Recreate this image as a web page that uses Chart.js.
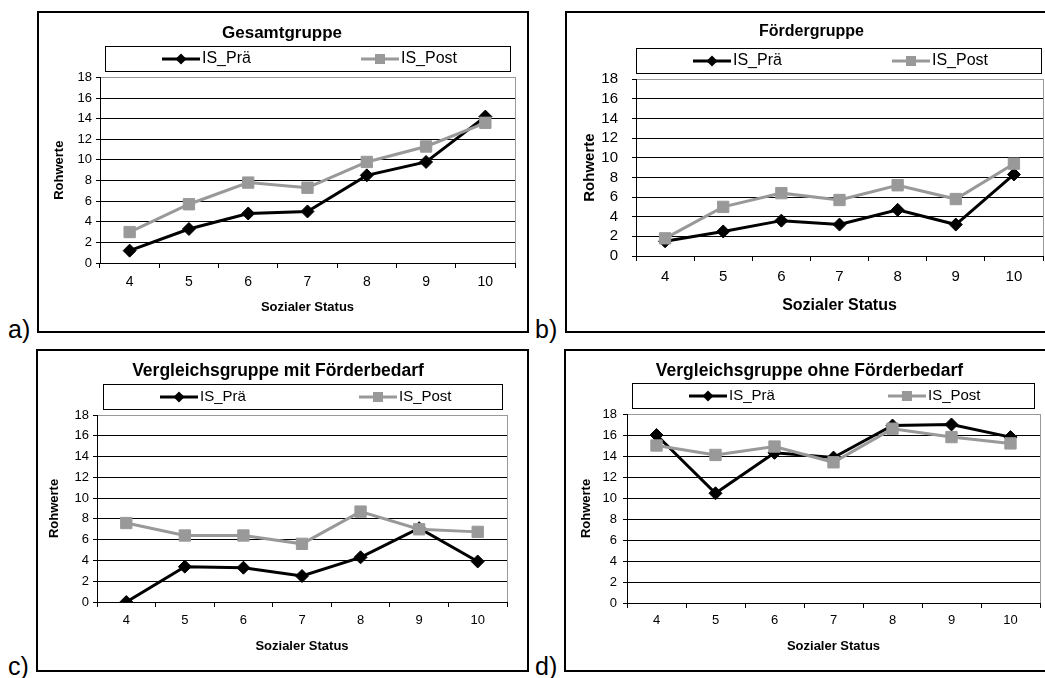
<!DOCTYPE html>
<html>
<head>
<meta charset="utf-8">
<script src="https://cdn.jsdelivr.net/npm/chart.js@4/dist/chart.umd.min.js"></script>
<style>
    body { margin: 0; background: #fff; overflow: hidden; width: 1045px; height: 678px; position: relative; font-family: "Liberation Sans", Arial, sans-serif; }
    .panel { position: absolute; border: 2px solid #000; box-sizing: border-box; background: #fff; }
    .panel canvas { display: block; }
    .tag { position: absolute; font-size: 25px; line-height: 1; color: #000; }
</style>
</head>
<body>

<div class="panel" id="box-a" style="left:37px; top:11px; width:492px; height:322px;"><canvas id="chart-a" width="488" height="318"></canvas></div>
<div class="panel" id="box-b" style="left:565px; top:11px; width:493px; height:322px;"><canvas id="chart-b" width="489" height="318"></canvas></div>
<div class="panel" id="box-c" style="left:36px; top:349px; width:493px; height:323px;"><canvas id="chart-c" width="489" height="319"></canvas></div>
<div class="panel" id="box-d" style="left:564px; top:349px; width:491px; height:323px;"><canvas id="chart-d" width="487" height="319"></canvas></div>

<span class="tag" style="left:8px; top:317px;">a)</span>
<span class="tag" style="left:535px; top:317px;">b)</span>
<span class="tag" style="left:8px; top:654px;">c)</span>
<span class="tag" style="left:535px; top:654px;">d)</span>

<script>
// Kategorien (Sozialer Status)
const statusLabels = ['4', '5', '6', '7', '8', '9', '10'];

// Werte je Gruppe
const gesamtPrae = [1.2, 3.3, 4.8, 5.0, 8.5, 9.8, 14.2];
const gesamtPost = [3.0, 5.7, 7.8, 7.3, 9.8, 11.3, 13.6];

const foerderPrae = [1.5, 2.5, 3.6, 3.2, 4.7, 3.2, 8.3];
const foerderPost = [1.8, 5.0, 6.4, 5.7, 7.2, 5.8, 9.4];

const mitBedarfPrae = [0.0, 3.4, 3.3, 2.5, 4.3, 7.1, 3.9];
const mitBedarfPost = [7.6, 6.4, 6.4, 5.6, 8.7, 7.0, 6.75];

const ohneBedarfPrae = [16.0, 10.45, 14.3, 13.85, 16.9, 17.0, 15.8];
const ohneBedarfPost = [15.0, 14.1, 14.9, 13.4, 16.6, 15.8, 15.2];

// y-Achse
const yMin = 0;
const yMax = 18;
const yStep = 2;

const seriesNames = ['IS_Prä', 'IS_Post'];
const FONT = "'Liberation Sans', Arial, sans-serif";
const GREY = '#999999';

// Legend in a framed box above the plot area
const boxLegend = {
    id: 'boxLegend',
    afterDraw(chart, args, opts) {
        const ctx = chart.ctx;
        const area = chart.chartArea;
        const left = Math.round(area.left + opts.insetLeft);
        const right = Math.round(area.right - opts.insetRight);
        const top = Math.round(area.top - 31);
        const bottom = Math.round(area.top - 6);
        ctx.save();
        ctx.strokeStyle = '#000';
        ctx.lineWidth = 1;
        ctx.strokeRect(left + 0.5, top + 0.5, right - left, bottom - top);
        const cy = (top + bottom) / 2 + 0.5;
        chart.data.datasets.forEach((ds, i) => {
            const x0 = left + (i === 0 ? 57 : 256);
            const cx = x0 + 19;
            ctx.strokeStyle = ds.borderColor;
            ctx.fillStyle = ds.borderColor;
            ctx.lineWidth = ds.borderWidth;
            ctx.beginPath();
            ctx.moveTo(x0, cy);
            ctx.lineTo(x0 + 38, cy);
            ctx.stroke();
            ctx.beginPath();
            if (ds.pointStyle === 'rectRot') {
                const r = 5.5;
                ctx.moveTo(cx - r, cy);
                ctx.lineTo(cx, cy - r);
                ctx.lineTo(cx + r, cy);
                ctx.lineTo(cx, cy + r);
                ctx.closePath();
            } else {
                ctx.rect(cx - 5, cy - 5, 10, 10);
            }
            ctx.fill();
            ctx.fillStyle = '#000';
            ctx.font = opts.fontSize + 'px ' + FONT;
            ctx.textBaseline = 'middle';
            ctx.textAlign = 'left';
            ctx.fillText(ds.label, x0 + 40, cy);
        });
        ctx.restore();
    }
};

// Grey frame on the right side of the plot area
const plotFrame = {
    id: 'plotFrame',
    beforeDatasetsDraw(chart) {
        const ctx = chart.ctx;
        const area = chart.chartArea;
        const x = Math.round(area.right) + 0.5;
        ctx.save();
        ctx.strokeStyle = GREY;
        ctx.lineWidth = 1;
        ctx.beginPath();
        ctx.moveTo(x, Math.round(area.top));
        ctx.lineTo(x, Math.round(area.bottom));
        ctx.stroke();
        ctx.restore();
    }
};

function makeChart(canvasId, title, prae, post, s) {
    return new Chart(document.getElementById(canvasId), {
        type: 'line',
        data: {
            labels: statusLabels,
            datasets: [{
                label: seriesNames[0],
                data: prae,
                borderColor: '#000000',
                backgroundColor: '#000000',
                borderWidth: 3,
                pointStyle: 'rectRot',
                pointRadius: 6.5,
                pointBorderWidth: 1,
                tension: 0,
                order: 2
            }, {
                label: seriesNames[1],
                data: post,
                borderColor: GREY,
                backgroundColor: GREY,
                borderWidth: 3,
                pointStyle: 'rect',
                pointRadius: 8,
                pointBorderWidth: 1,
                tension: 0,
                order: 1
            }]
        },
        options: {
            responsive: false,
            animation: false,
            layout: { padding: { left: 0, right: s.padRight, top: 0, bottom: 0 } },
            plugins: {
                legend: { display: false },
                tooltip: { enabled: false },
                title: {
                    display: true,
                    text: title,
                    color: '#000',
                    font: { family: FONT, size: s.titleSize, weight: 'bold' },
                    padding: { top: s.titleTop, bottom: s.titleBottom }
                },
                boxLegend: { insetLeft: s.legLeft, insetRight: s.legRight, fontSize: s.legSize }
            },
            scales: {
                x: {
                    offset: true,
                    afterFit: (scale) => { scale.height = s.xHeight; },
                    grid: { display: true, offset: true, drawOnChartArea: false, drawTicks: true, tickLength: 5, color: '#000', tickColor: '#000' },
                    border: { display: true, color: '#000', width: 1 },
                    ticks: { color: '#000', padding: s.xTickPad, autoSkip: false, font: { family: FONT, size: s.xTickSize }, maxRotation: 0 },
                    title: {
                        display: true,
                        text: 'Sozialer Status',
                        color: '#000',
                        font: { family: FONT, size: s.xTitleSize, weight: 'bold' },
                        padding: { top: 0, bottom: s.xTitleBottom }
                    }
                },
                y: {
                    min: yMin,
                    max: yMax,
                    afterFit: (scale) => { scale.width = s.yWidth; },
                    grid: {
                        color: (c) => (c.tick && c.tick.value === yMax ? GREY : '#000'),
                        tickColor: '#000',
                        lineWidth: 1,
                        drawTicks: true,
                        tickLength: 4
                    },
                    border: { display: true, color: '#000', width: 1 },
                    ticks: { stepSize: yStep, autoSkip: false, color: '#000', padding: s.yTickPad, font: { family: FONT, size: s.yTickSize } },
                    title: {
                        display: true,
                        text: 'Rohwerte',
                        color: '#000',
                        font: { family: FONT, size: s.yTitleSize, weight: 'bold' },
                        padding: { top: s.yTitleTop, bottom: 0 }
                    }
                },
                // empty spacer on the right, keeps the title centred on the whole box
                spacer: {
                    type: 'linear',
                    position: 'right',
                    afterFit: (scale) => { scale.width = s.rightGap; },
                    grid: { display: false, drawTicks: false },
                    border: { display: false },
                    ticks: { display: false }
                }
            }
        },
        plugins: [boxLegend, plotFrame]
    });
}

makeChart('chart-a', 'Gesamtgruppe', gesamtPrae, gesamtPost, {
    padRight: 2, rightGap: 10, titleSize: 17, titleTop: 10, titleBottom: 34,
    legLeft: 5, legRight: 5, legSize: 16,
    xHeight: 68, xTickPad: 6, xTickSize: 14, xTitleSize: 13, xTitleBottom: 16,
    yWidth: 61, yTickPad: 4, yTickSize: 13, yTitleSize: 13, yTitleTop: 13
});

makeChart('chart-b', 'Fördergruppe', foerderPrae, foerderPost, {
    padRight: 0, rightGap: 13, titleSize: 16, titleTop: 9, titleBottom: 38,
    legLeft: 0, legRight: 2, legSize: 16,
    xHeight: 75, xTickPad: 7, xTickSize: 15, xTitleSize: 16, xTitleBottom: 16,
    yWidth: 69, yTickPad: 14, yTickSize: 15, yTitleSize: 15, yTitleTop: 14
});

makeChart('chart-c', 'Vergleichsgruppe mit Förderbedarf', mitBedarfPrae, mitBedarfPost, {
    padRight: 9, rightGap: 11, titleSize: 17.5, titleTop: 10, titleBottom: 33,
    legLeft: 6, legRight: 5, legSize: 15,
    xHeight: 68, xTickPad: 6, xTickSize: 13, xTitleSize: 13, xTitleBottom: 16,
    yWidth: 59, yTickPad: 4, yTickSize: 13, yTitleSize: 13, yTitleTop: 9
});

makeChart('chart-d', 'Vergleichsgruppe ohne Förderbedarf', ohneBedarfPrae, ohneBedarfPost, {
    padRight: 0, rightGap: 13, titleSize: 17.5, titleTop: 10, titleBottom: 32,
    legLeft: 5, legRight: 6, legSize: 15,
    xHeight: 67, xTickPad: 5, xTickSize: 13, xTitleSize: 13, xTitleBottom: 16,
    yWidth: 61, yTickPad: 6, yTickSize: 13, yTitleSize: 13, yTitleTop: 13
});
</script>
</body>
</html>
